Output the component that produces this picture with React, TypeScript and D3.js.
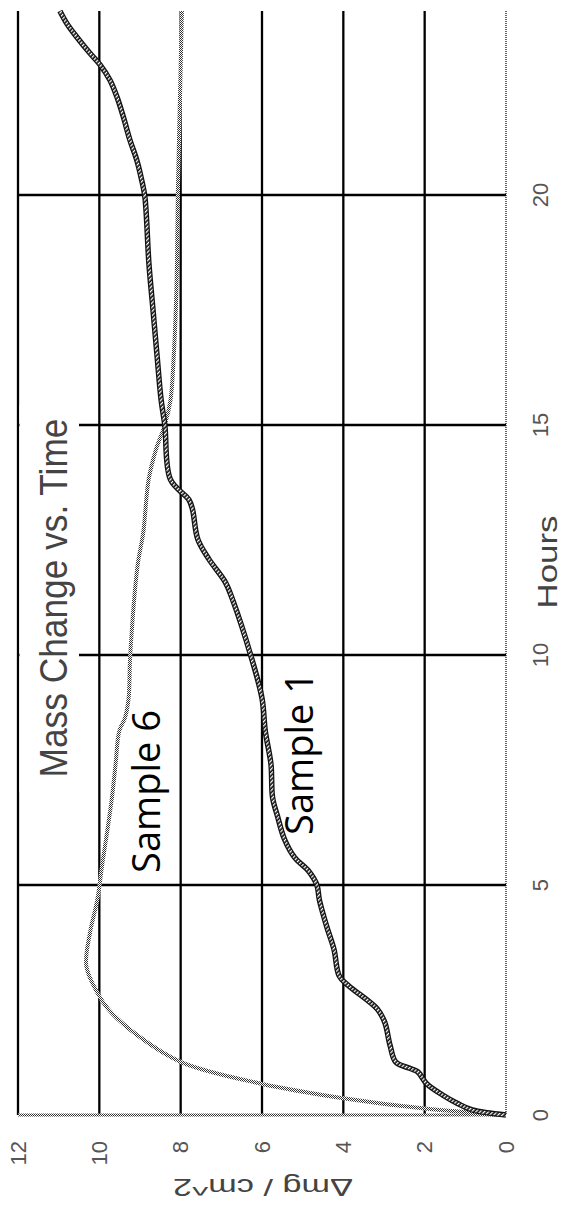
import * as d3 from "d3";

// Hours (x axis of the original chart, drawn rotated so it runs upward)
const hourTicks = [0, 5, 10, 15, 20];
const valueTicks = [0, 2, 4, 6, 8, 10, 12];

// Sample 1: hatched dark curve
const sample1Hours = [0, 0.11, 0.25, 0.43, 0.68, 0.94, 1.01, 1.15, 1.51, 2.01, 2.3, 2.81, 3.02, 3.6, 4.1, 4.68, 5.0, 5.3, 5.6, 6.0, 6.5, 6.9, 7.63, 8.35, 9.06, 10.0, 11.22, 11.58, 12.09, 12.52, 13.17, 13.38, 13.81, 15.0, 15.54, 16.5, 17.5, 18.5, 19.96, 20.33, 20.76, 21.2, 21.7, 22.14, 22.5, 22.83, 23.08, 23.44, 23.73, 24.0];
const sample1Values = [0, 0.83, 1.19, 1.55, 1.95, 2.17, 2.35, 2.71, 2.85, 2.98, 3.16, 3.87, 4.1, 4.23, 4.41, 4.59, 4.65, 4.85, 5.2, 5.45, 5.62, 5.74, 5.78, 5.92, 6.0, 6.28, 6.73, 6.9, 7.31, 7.58, 7.71, 7.8, 8.25, 8.39, 8.48, 8.58, 8.68, 8.78, 8.88, 8.96, 9.08, 9.25, 9.41, 9.57, 9.74, 9.98, 10.23, 10.56, 10.8, 10.97];

// Sample 6: light dotted curve
const sample6Hours = [0, 0.14, 0.36, 0.68, 1.15, 1.73, 2.3, 2.66, 3.24, 3.96, 4.68, 5.5, 6.2, 6.9, 7.63, 8.35, 8.63, 9.06, 10.0, 11.94, 12.66, 13.8, 14.46, 15.0, 15.54, 16.5, 17.5, 18.5, 20.0, 22.0, 24.0];
const sample6Values = [0, 2.0, 3.96, 6.02, 7.99, 9.06, 9.78, 10.05, 10.32, 10.23, 10.05, 9.92, 9.8, 9.69, 9.6, 9.51, 9.37, 9.28, 9.24, 9.06, 8.92, 8.79, 8.61, 8.39, 8.25, 8.17, 8.12, 8.09, 8.07, 8.02, 7.97];

export default function App() {
  const width = 570;
  const height = 1208;

  // chart is rotated: hours go bottom -> top, values go right -> left
  const yHour = d3.scaleLinear().domain([0, 24]).range([1115, 11]);
  const xVal = d3.scaleLinear().domain([0, 12]).range([506, 18]);

  const line = d3
    .line<[number, number]>()
    .x((d) => xVal(d[1]))
    .y((d) => yHour(d[0]))
    .curve(d3.curveCatmullRom.alpha(0.5));

  const s1 = sample1Hours.map((h, i) => [h, sample1Values[i]] as [number, number]);
  const s6 = sample6Hours.map((h, i) => [h, sample6Values[i]] as [number, number]);

  const font = "'Liberation Sans', Arial, sans-serif";

  return (
    <svg
      width={width}
      height={height}
      style={{ position: "absolute", left: 0, top: 0, background: "#fff" }}
    >
      <defs>
        <pattern id="hatchWhite" width="3" height="3" patternUnits="userSpaceOnUse" patternTransform="rotate(45)">
          <rect width="1.3" height="3" fill="#fff" />
        </pattern>
        <pattern id="dots" width="2" height="2" patternUnits="userSpaceOnUse">
          <rect width="2" height="2" fill="#fff" />
          <rect width="1" height="1" fill="#333" />
          <rect x="1" y="1" width="1" height="1" fill="#333" />
        </pattern>
      </defs>

      {/* value gridlines (vertical) */}
      {valueTicks.filter((v) => v > 0).map((v) => (
        <line key={"v" + v} x1={xVal(v)} x2={xVal(v)} y1={yHour(24)} y2={yHour(0)} stroke="#000" strokeWidth={2.3} />
      ))}

      {/* hour gridlines (horizontal) */}
      {hourTicks.filter((h) => h > 0).map((h) => (
        <line key={"h" + h} x1={xVal(12)} x2={xVal(0)} y1={yHour(h)} y2={yHour(h)} stroke="#000" strokeWidth={2.3} />
      ))}

      {/* axis lines, dotted */}
      <line x1={xVal(0)} x2={xVal(0)} y1={yHour(24)} y2={yHour(0)} stroke="#000" strokeWidth={1.2} strokeDasharray="1 1" />
      <line x1={xVal(12)} x2={xVal(0)} y1={yHour(0)} y2={yHour(0)} stroke="url(#dots)" strokeWidth={3} />

      {/* title box */}
      <rect x={xVal(12) + 1.5} y={405} width={79 - xVal(12) - 1.5} height={387} fill="#fff" />
      <text
        transform={`translate(67,598) rotate(-90)`}
        textAnchor="middle"
        fontFamily={font}
        fontSize={39}
        fill="#444"
        textLength={359}
        lengthAdjust="spacingAndGlyphs"
      >
        Mass Change vs. Time
      </text>

      {/* series */}
      <path d={line(s6) || ""} fill="none" stroke="url(#dots)" strokeWidth={4} />
      <path d={line(s1) || ""} fill="none" stroke="#111" strokeWidth={5.5} />
      <path d={line(s1) || ""} fill="none" stroke="url(#hatchWhite)" strokeWidth={3} />

      {/* series labels */}
      <text transform="translate(160,710) rotate(-90)" textAnchor="end" fontFamily="'Open Sans', sans-serif" fontSize={38} fill="#000">
        Sample 6
      </text>
      <text transform="translate(313,672) rotate(-90)" textAnchor="end" fontFamily="'Open Sans', sans-serif" fontSize={38} fill="#000">
        Sample 1
      </text>

      {/* value tick labels */}
      {valueTicks.map((v) => (
        <text
          key={"vl" + v}
          transform={`translate(${xVal(v)},1141) rotate(-90)`}
          textAnchor="end"
          dominantBaseline="central"
          fontFamily={font}
          fontSize={22}
          fill="#555"
        >
          {v}
        </text>
      ))}

      {/* hour tick labels */}
      {hourTicks.map((h) => (
        <text
          key={"hl" + h}
          transform={`translate(540,${yHour(h)}) rotate(-90)`}
          textAnchor="middle"
          dominantBaseline="central"
          fontFamily={font}
          fontSize={22}
          fill="#555"
        >
          {h}
        </text>
      ))}

      {/* axis titles */}
      <text
        transform="translate(557,562) rotate(-90)"
        textAnchor="middle"
        fontFamily={font}
        fontSize={28}
        fill="#444"
        textLength={93}
        lengthAdjust="spacingAndGlyphs"
      >
        Hours
      </text>
      <text
        transform="translate(263,1187) rotate(180)"
        textAnchor="middle"
        dominantBaseline="central"
        fontFamily={font}
        fontSize={24}
        fill="#444"
        textLength={180}
        lengthAdjust="spacingAndGlyphs"
      >
        Δmg / cm^2
      </text>
    </svg>
  );
}
